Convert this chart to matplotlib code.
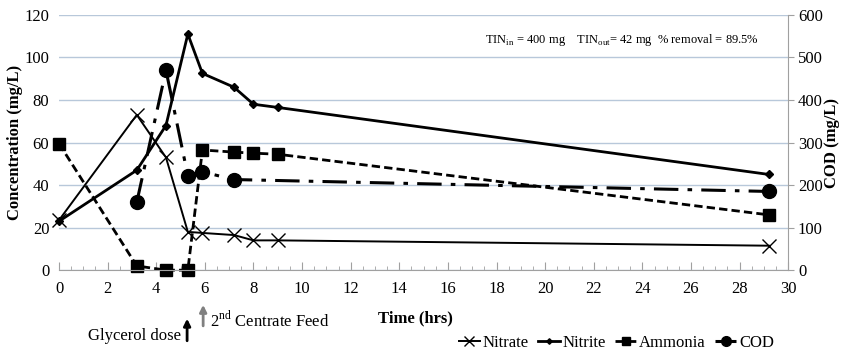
import numpy as np
import matplotlib.pyplot as plt
from matplotlib.ticker import MultipleLocator

plt.rcParams['font.family'] = ['Liberation Serif', 'DejaVu Serif']
plt.rcParams['mathtext.fontset'] = 'custom'
plt.rcParams['mathtext.rm'] = 'Liberation Serif'

# data
t_n = [0, 3.2, 4.4, 5.3, 5.9, 7.2, 8, 9, 29.2]
nitrate = [23.5, 73, 53, 18, 17.5, 16.5, 14, 14, 11.5]
nitrite = [23, 47, 68, 111, 92.5, 86, 78, 76.5, 45]
ammonia = [59.5, 2, 0, 0, 56.5, 55.5, 55, 54.5, 26]
t_cod = [3.2, 4.4, 5.3, 5.9, 7.2, 29.2]
cod = [160, 470, 222, 231, 213, 185]

fig = plt.figure(figsize=(8.43, 3.55), dpi=100)
ax = fig.add_axes([0.070, 0.239, 0.865, 0.719])
ax2 = ax.twinx()

grid_c = '#b8c8da'
ax.set_xlim(0, 30)
ax.set_ylim(0, 120)
ax2.set_ylim(0, 600)
ax.set_yticks(np.arange(0, 121, 20))
ax2.set_yticks(np.arange(0, 601, 100))
ax.xaxis.set_major_locator(MultipleLocator(2))
ax.xaxis.set_minor_locator(MultipleLocator(0.5))
ax.grid(axis='y', color=grid_c, lw=1)
ax.set_axisbelow(True)

for s in ['left', 'top']:
    ax.spines[s].set_visible(False)
    ax2.spines[s].set_visible(False)
ax.spines['right'].set_visible(False)
ax2.spines['right'].set_color('#a0a0a0')
ax2.spines['bottom'].set_visible(False)
ax.spines['bottom'].set_color('#a0a0a0')

ax.tick_params(axis='x', which='both', direction='in', color='#a0a0a0', labelsize=12, pad=8)
ax.tick_params(axis='x', which='major', length=6)
ax.tick_params(axis='x', which='minor', length=3)
ax.tick_params(axis='y', length=0, labelsize=12, pad=7)
ax2.tick_params(axis='y', length=4, color='#a0a0a0', labelsize=12, pad=3)

l1, = ax.plot(t_n, nitrate, color='black', lw=1.4, marker='x', ms=10, mew=1, clip_on=False)
l2, = ax.plot(t_n, nitrite, color='black', lw=2, marker='D', ms=4, clip_on=False)
l3, = ax.plot(t_n, ammonia, color='black', lw=2, ls=(0, (3, 1.5)), marker='s', ms=8, clip_on=False)
l4, = ax2.plot(t_cod, cod, color='black', lw=2.2, ls=(0, (8, 3, 1.5, 3)), marker='o', ms=10, clip_on=False)

ax.set_ylabel('Concentration (mg/L)', fontsize=12, fontweight='bold', labelpad=1)
ax2.set_ylabel('COD (mg/L)', fontsize=12, fontweight='bold', labelpad=1)

ax.text(28.8, 108, r'TIN$_{\rm in}$ = 400 mg    TIN$_{\rm out}$= 42 mg  % removal = 89.5%',
        ha='right', va='center', fontsize=9)

fig.text(0.493, 0.104, 'Time (hrs)', fontsize=12, fontweight='bold', ha='center', va='center')

ax.annotate('', xy=(5.27, -21.5), xytext=(5.27, -34.5), annotation_clip=False,
            arrowprops=dict(arrowstyle='-|>', color='black', lw=2, mutation_scale=10))
ax.text(5.0, -31, 'Glycerol dose', fontsize=12, ha='right', va='center')
ax.annotate('', xy=(5.93, -15), xytext=(5.93, -27.5), annotation_clip=False,
            arrowprops=dict(arrowstyle='-|>', color='#808080', lw=2, mutation_scale=10))
ax.text(6.2, -23.5, r'2$^{\rm nd}$ Centrate Feed', fontsize=12, ha='left', va='center')

fig.legend([l1, l2, l3, l4], ['Nitrate', 'Nitrite', 'Ammonia', 'COD'],
           loc='center', bbox_to_anchor=(0.731, 0.035), ncol=4, frameon=False,
           fontsize=12, handlelength=1.3, handletextpad=0.15, columnspacing=0.55,
           markerscale=0.7)

fig.savefig('out.png', dpi=100)
